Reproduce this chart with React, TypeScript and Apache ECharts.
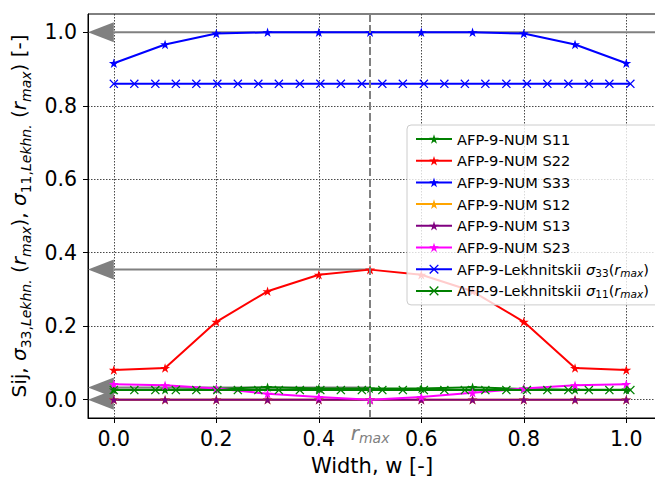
import React, { useEffect, useRef } from "react";
import * as echarts from "echarts";

// ---- data ----
const xStar = [0, 0.1, 0.2, 0.3, 0.4, 0.5, 0.6, 0.7, 0.8, 0.9, 1.0];
const s11 = [0.027, 0.027, 0.029, 0.034, 0.030, 0.030, 0.030, 0.034, 0.029, 0.027, 0.027];
const s22 = [0.081, 0.086, 0.212, 0.295, 0.340, 0.354, 0.340, 0.295, 0.212, 0.086, 0.081];
const s33 = [0.916, 0.967, 0.997, 1.0, 1.0, 1.0, 1.0, 1.0, 0.997, 0.967, 0.916];
const s12 = [0, 0, 0, 0, 0, 0, 0, 0, 0, 0, 0];
const s13 = [0, 0, 0, 0, 0, 0, 0, 0, 0, 0, 0];
const s23 = [0.042, 0.039, 0.030, 0.016, 0.007, 0.0, 0.007, 0.019, 0.030, 0.039, 0.042];

const xLek = [
  0.0, 0.04, 0.081, 0.121, 0.161, 0.202, 0.242, 0.282, 0.322, 0.363, 0.403, 0.443, 0.484,
  0.524, 0.564, 0.605, 0.645, 0.685, 0.725, 0.766, 0.806, 0.846, 0.887, 0.927, 0.967, 1.008,
];
const lek33 = [
  0.86, 0.86, 0.86, 0.86, 0.86, 0.86, 0.86, 0.86, 0.86, 0.86, 0.86, 0.86, 0.86,
  0.86, 0.86, 0.86, 0.86, 0.86, 0.86, 0.86, 0.86, 0.86, 0.86, 0.86, 0.86, 0.86,
];
const lek11 = [
  0.026, 0.026, 0.026, 0.026, 0.026, 0.026, 0.026, 0.026, 0.026, 0.026, 0.026, 0.026, 0.026,
  0.026, 0.026, 0.026, 0.026, 0.026, 0.026, 0.026, 0.026, 0.026, 0.026, 0.026, 0.026, 0.026,
];

// arrows pointing to the y axis (level, x where the shaft starts)
const arrowLevels = [1.0, 0.354, 0.033, 0.0];
const arrowFromX = [1.058, 0.5, 0.5, 0.5];
const rMaxX = 0.5;

const xTicks = [0, 0.2, 0.4, 0.6, 0.8, 1.0];
const yTicks = [0, 0.2, 0.4, 0.6, 0.8, 1.0];

const seriesNames = [
  "AFP-9-NUM S11",
  "AFP-9-NUM S22",
  "AFP-9-NUM S33",
  "AFP-9-NUM S12",
  "AFP-9-NUM S13",
  "AFP-9-NUM S23",
  "AFP-9-Lekhnitskii σ33(rmax)",
  "AFP-9-Lekhnitskii σ11(rmax)",
];
const seriesColors = ["#008000", "#ff0000", "#0000ff", "#ffa500", "#800080", "#ff00ff", "#0000ff", "#008000"];

const STAR =
  "path://M0,-100 L22.45,-30.9 L95.1,-30.9 L36.33,11.8 L58.8,80.9 L0,38.2 L-58.8,80.9 L-36.33,11.8 L-95.1,-30.9 L-22.45,-30.9 Z";
const XMARK = "path://M1,0 L5,4 L9,0 L10,1 L6,5 L10,9 L9,10 L5,6 L1,10 L0,9 L4,5 L0,1 Z";

const FONT = "DejaVu Sans";

function zip(xs: number[], ys: number[]) {
  return xs.map((x, i) => [x, ys[i]]);
}

export default function App() {
  const ref = useRef<HTMLDivElement>(null);
  useEffect(() => {
    if (!ref.current) return;
    const chart = echarts.init(ref.current, null, { renderer: "svg" });

    const seriesData = [
      zip(xStar, s11),
      zip(xStar, s22),
      zip(xStar, s33),
      zip(xStar, s12),
      zip(xStar, s13),
      zip(xStar, s23),
      zip(xLek, lek33),
      zip(xLek, lek11),
    ];

    const lineSeries: any[] = seriesNames.map((name, i) => {
      const isLek = i >= 6;
      const s: any = {
        name,
        type: "line",
        data: seriesData[i],
        symbol: isLek ? XMARK : STAR,
        symbolSize: isLek ? 9 : 10,
        symbolKeepAspect: true,
        showAllSymbol: true,
        lineStyle: { color: seriesColors[i], width: 2 },
        itemStyle: { color: seriesColors[i] },
        emphasis: { disabled: true },
        z: 3,
      };
      if (i === 1) {
        s.markLine = {
          silent: true,
          symbol: "none",
          animation: false,
          lineStyle: { color: "#808080", width: 2, type: [8, 3] },
          label: {
            show: true,
            position: "start",
            distance: 3,
            formatter: "{r|r}{m|max}",
            rich: {
              r: { fontFamily: FONT, fontStyle: "italic", fontSize: 20, color: "#808080", lineHeight: 24 },
              m: {
                fontFamily: FONT,
                fontStyle: "italic",
                fontSize: 14,
                color: "#808080",
                lineHeight: 14,
                verticalAlign: "bottom",
              },
            },
          },
          data: [{ xAxis: rMaxX }],
        };
      }
      return s;
    });

    const arrowSeries = {
      type: "custom",
      name: "arrows",
      z: 2,
      silent: true,
      clip: false,
      data: arrowLevels.map((y, i) => [arrowFromX[i], y]),
      renderItem: (params: any, api: any) => {
        const x0 = api.value(0);
        const y = api.value(1);
        const start = api.coord([x0, y]);
        const base = api.coord([0, y]);
        const tipX = params.coordSys.x;
        return {
          type: "group",
          children: [
            {
              type: "line",
              shape: { x1: start[0], y1: start[1], x2: base[0], y2: base[1] },
              style: { stroke: "#808080", lineWidth: 2 },
            },
            {
              type: "polygon",
              shape: {
                points: [
                  [tipX, base[1]],
                  [base[0], base[1] - 10],
                  [base[0], base[1] + 10],
                ],
              },
              style: { fill: "#808080" },
            },
          ],
        };
      },
    };

    const legendRich = {
      it: { fontFamily: FONT, fontStyle: "italic", fontSize: 14.6, lineHeight: 18, color: "#000" },
      sub: { fontFamily: FONT, fontSize: 10.5, lineHeight: 10, verticalAlign: "bottom", color: "#000" },
      subi: {
        fontFamily: FONT,
        fontStyle: "italic",
        fontSize: 10.5,
        lineHeight: 10,
        verticalAlign: "bottom",
        color: "#000",
      },
    };

    const yRich = {
      it: { fontFamily: FONT, fontStyle: "italic", fontSize: 20, lineHeight: 28, color: "#000" },
      sub: { fontFamily: FONT, fontSize: 14, lineHeight: 15, verticalAlign: "bottom", color: "#000" },
      subi: {
        fontFamily: FONT,
        fontStyle: "italic",
        fontSize: 14,
        lineHeight: 15,
        verticalAlign: "bottom",
        color: "#000",
      },
    };

    chart.setOption({
      animation: false,
      backgroundColor: "#ffffff",
      textStyle: { fontFamily: FONT },
      grid: {
        left: 88,
        top: 14,
        width: 568,
        height: 404,
        show: true,
        borderColor: "#000",
        borderWidth: 1,
        backgroundColor: "transparent",
        outerBoundsMode: "none",
      },
      xAxis: {
        type: "value",
        min: -0.0504,
        max: 1.058,
        name: "Width, w [-]",
        nameLocation: "middle",
        nameGap: 33,
        nameTextStyle: { fontFamily: FONT, fontSize: 21, color: "#000", lineHeight: 24 },
        axisLine: { show: true, onZero: false, lineStyle: { color: "#000", width: 1 } },
        axisTick: { show: true, length: 5, customValues: xTicks, lineStyle: { color: "#000", width: 1 } },
        axisLabel: {
          customValues: xTicks,
          formatter: (v: number) => v.toFixed(1),
          fontFamily: FONT,
          fontSize: 20.5,
          color: "#000",
          margin: 10,
        },
        splitLine: { show: true, lineStyle: { color: "#333", width: 0.9, type: [1.5, 1.5] } },
      },
      yAxis: {
        type: "value",
        min: -0.05,
        max: 1.05,
        name:
          "Sij, {it|σ}{sub|33,}{subi|Lekhn.} ({it|r}{subi|max}), {it|σ}{sub|11,}{subi|Lekhn.} ({it|r}{subi|max}) [-]",
        nameLocation: "middle",
        nameRotate: 90,
        nameGap: 50,
        nameTextStyle: {
          fontFamily: FONT,
          fontSize: 20,
          color: "#000",
          lineHeight: 28,
          rich: yRich,
        },
        axisLine: { show: true, onZero: false, lineStyle: { color: "#000", width: 1 } },
        axisTick: { show: true, length: 5, customValues: yTicks, lineStyle: { color: "#000", width: 1 } },
        axisLabel: {
          customValues: yTicks,
          formatter: (v: number) => v.toFixed(1),
          fontFamily: FONT,
          fontSize: 20.5,
          color: "#000",
          margin: 11,
        },
        splitLine: { show: true, lineStyle: { color: "#333", width: 0.9, type: [1.5, 1.5] } },
      },
      legend: {
        show: true,
        orient: "vertical",
        left: 407,
        top: 125,
        padding: [5, 24, 5, 8],
        itemGap: 3.7,
        itemWidth: 36,
        itemHeight: 12,
        selectedMode: false,
        backgroundColor: "rgba(255,255,255,0.8)",
        borderColor: "#cccccc",
        borderWidth: 1,
        borderRadius: 4,
        data: seriesNames,
        textStyle: { fontFamily: FONT, fontSize: 14.6, color: "#000", lineHeight: 18, rich: legendRich },
        formatter: (name: string) => {
          if (name.indexOf("σ33") >= 0) return "AFP-9-Lekhnitskii {it|σ}{sub|33}({it|r}{subi|max})";
          if (name.indexOf("σ11") >= 0) return "AFP-9-Lekhnitskii {it|σ}{sub|11}({it|r}{subi|max})";
          return name;
        },
      },
      series: [arrowSeries, ...lineSeries],
    });

    return () => {
      chart.dispose();
    };
  }, []);

  return (
    <div
      ref={ref}
      style={{ position: "fixed", left: 0, top: 0, width: 655, height: 478, background: "#fff" }}
    />
  );
}
